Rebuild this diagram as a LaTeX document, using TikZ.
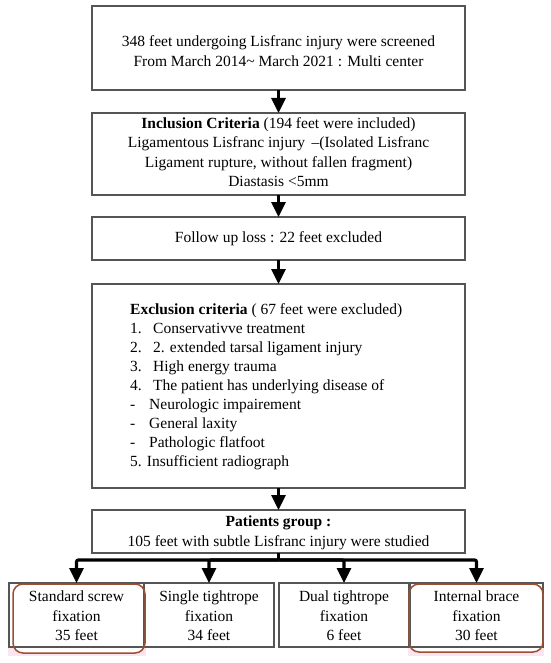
\documentclass[tikz,border=0pt]{standalone}
\usepackage{fontspec}
\setmainfont{Liberation Serif}
\usetikzlibrary{arrows.meta}
\definecolor{boxgray}{RGB}{85,85,85}
\definecolor{brownline}{RGB}{155,80,50}
\definecolor{pinkbg}{RGB}{252,228,240}
\begin{document}
\begin{tikzpicture}[x=1pt,y=-1pt,
  box/.style={draw=boxgray,line width=1.1pt,fill=white,inner sep=0pt,outer sep=0pt,anchor=north west},
  txt/.style={font=\fontsize{15.5}{19.5}\selectfont,align=center,inner sep=0pt},
  ltxt/.style={font=\fontsize{15.5}{19}\selectfont,align=left,inner sep=0pt,anchor=west},
  arr/.style={line width=3.2pt,-{Triangle[width=14pt,length=15pt]}},
  bar/.style={line width=3.2pt},
  rbox/.style={draw=brownline,line width=1.5pt,rounded corners=10pt,inner sep=0pt,outer sep=0pt,anchor=north west}]
\useasboundingbox[fill=white] (0,0) rectangle (550,663);

% main column boxes
\node[box,minimum width=373pt,minimum height=84pt] (top) at (92,6) {};
\node[txt] (toptext) at (278.5,51) {348 feet undergoing Lisfranc injury were screened\\From March 2014\textasciitilde{} March 2021 : Multi center};

\node[box,minimum width=373pt,minimum height=82pt] (incl) at (92,113) {};
\node[txt] (incltext) at (278.5,152) {\textbf{Inclusion Criteria} (194 feet were included)\\Ligamentous Lisfranc injury \,–(Isolated Lisfranc\\Ligament rupture, without fallen fragment)\\Diastasis <5mm};

\node[box,minimum width=373pt,minimum height=43pt] (fup) at (92,217) {};
\node[txt] (fuptext) at (278.5,239) {Follow up loss : 22 feet excluded};

\node[box,minimum width=373pt,minimum height=204pt] (excl) at (92,284) {};
\node[ltxt] (excltext) at (130,387) {\textbf{Exclusion criteria} ( 67 feet were excluded)\\
\makebox[23pt][l]{1.}Conservativve treatment\\
\makebox[23pt][l]{2.}2. extended tarsal ligament injury\\
\makebox[23pt][l]{3.}High energy trauma\\
\makebox[23pt][l]{4.}The patient has underlying disease of\\
\makebox[19pt][l]{-}Neurologic impairement\\
\makebox[19pt][l]{-}General laxity\\
\makebox[19pt][l]{-}Pathologic flatfoot\\
5. Insufficient radiograph};

\node[box,minimum width=373pt,minimum height=43pt] (pat) at (92,510) {};
\node[txt] (pattext) at (278.5,533) {\textbf{Patients group :}\\105 feet with subtle Lisfranc injury were studied};

% pink backgrounds and rounded fills
\fill[pinkbg] (8,582) rectangle (146,656);
\fill[pinkbg] (408,582) rectangle (544,656);
\fill[white,rounded corners=10pt] (13,584) rectangle (145,653);
\fill[white,rounded corners=10pt] (409,584) rectangle (543,652);

% bottom boxes
\node[box,minimum width=135pt,minimum height=64pt] (b1) at (9,583) {};
\node[box,minimum width=130pt,minimum height=64pt] (b2) at (144,583) {};
\node[box,minimum width=130pt,minimum height=64pt] (b3) at (279,583) {};
\node[box,minimum width=133pt,minimum height=64pt] (b4) at (410,583) {};
\node[txt] (b1text) at ([yshift=-1pt]b1.center) {Standard screw\\fixation\\35 feet};
\node[txt] (b2text) at ([yshift=-1pt]b2.center) {Single tightrope\\fixation\\34 feet};
\node[txt] (b3text) at ([yshift=-1pt]b3.center) {Dual tightrope\\fixation\\6 feet};
\node[txt] (b4text) at ([yshift=-1pt]b4.center) {Internal brace\\fixation\\30 feet};

\node[rbox,minimum width=132pt,minimum height=69pt] (r1) at (13,584) {};
\node[rbox,minimum width=134pt,minimum height=68pt] (r4) at (409,584) {};

% arrows
\draw[arr] (top.south) -- (incl.north);
\draw[arr] (incl.south) -- (fup.north);
\draw[arr] (fup.south) -- (excl.north);
\draw[arr] (excl.south) -- (pat.north);

\coordinate (bj) at (278.5,560);
\draw[bar] (pat.south) -- (bj);
\draw[arr,rounded corners=2pt] (bj) -| (b1.north);
\draw[arr,rounded corners=2pt] (bj) -| (b2.north);
\draw[arr,rounded corners=2pt] (bj) -| (b3.north);
\draw[arr,rounded corners=2pt] (bj) -| (b4.north);
\end{tikzpicture}
\end{document}
